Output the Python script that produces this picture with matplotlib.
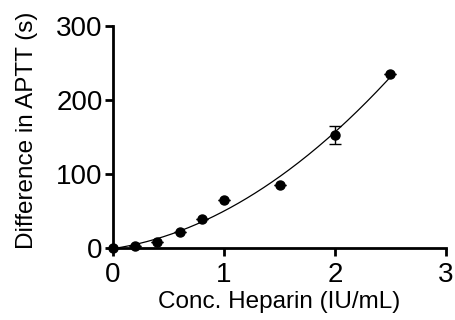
import numpy as np
import matplotlib
matplotlib.use("Agg")
import matplotlib.pyplot as plt

plt.rcParams['font.family'] = ['Liberation Sans', 'DejaVu Sans']

# Heparin concentration vs. APTT prolongation
conc = [0.0, 0.2, 0.4, 0.6, 0.8, 1.0, 1.5, 2.0, 2.5]
delta_aptt = [0.0, 3.0, 8.0, 21.0, 39.0, 65.0, 85.0, 153.0, 235.0]
err = [0, 0, 0, 0, 0, 0, 0, 12.0, 0]

x_ticks = [0, 1, 2, 3]
y_ticks = [0, 100, 200, 300]

fig = plt.figure(figsize=(4.56, 3.2), dpi=100)
ax = fig.add_axes([0.248, 0.225, 0.730, 0.694])

# second-order polynomial fit through the measured points
coef = np.polyfit(conc, delta_aptt, 2)
xf = np.linspace(0, max(conc), 200)
ax.plot(xf, np.polyval(coef, xf), color='black', lw=0.9, zorder=2)

ax.errorbar(conc, delta_aptt, yerr=err, fmt='o', color='black', ms=6.5,
            elinewidth=1.0, capsize=4, capthick=1.0, clip_on=False, zorder=3)

ax.set_xlim(0, 3)
ax.set_ylim(0, 300)
ax.set_xticks(x_ticks)
ax.set_yticks(y_ticks)
for s in ['top', 'right']:
    ax.spines[s].set_visible(False)
for s in ['left', 'bottom']:
    ax.spines[s].set_linewidth(2.0)
ax.tick_params(axis='both', width=2.0, length=6, labelsize=20)
ax.tick_params(axis='x', pad=4)
ax.tick_params(axis='y', pad=1.5)
ax.set_xlabel('Conc. Heparin (IU/mL)', fontsize=17.5, labelpad=2.5)
ax.set_ylabel('Difference in APTT (s)', fontsize=17.5)
ax.yaxis.set_label_coords(-0.225, 0.53)

fig.savefig('out.png', dpi=100)
